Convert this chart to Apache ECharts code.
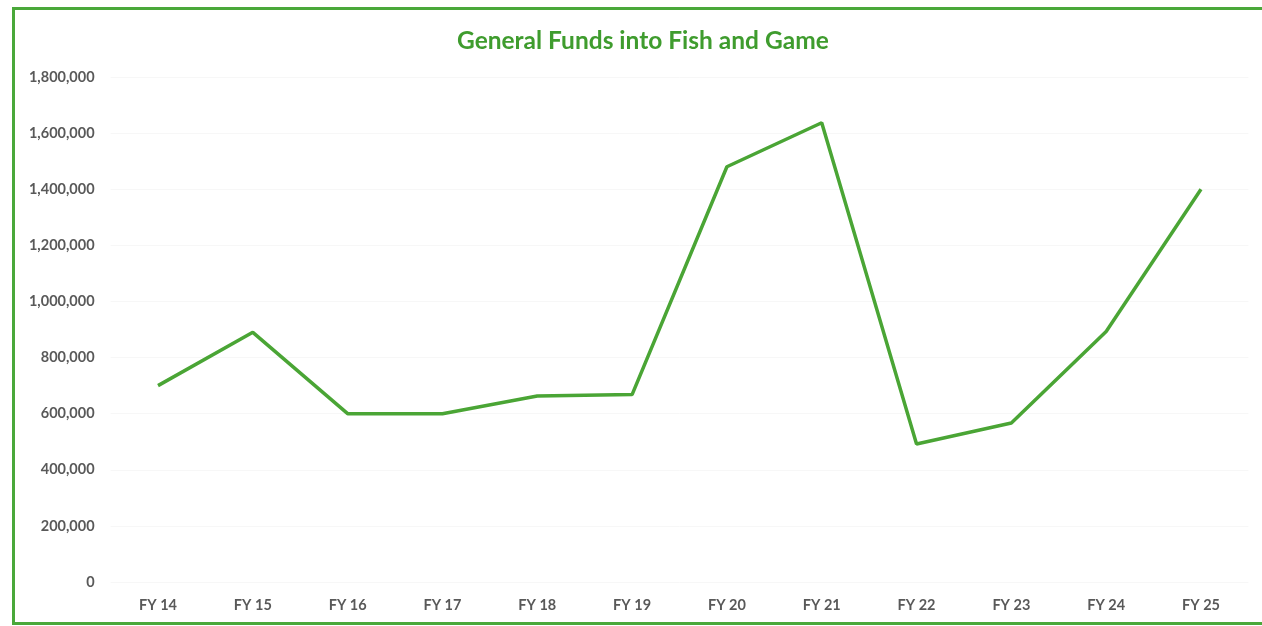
<!DOCTYPE html>
<html>
<head>
<meta charset="utf-8">
<script src="https://cdn.jsdelivr.net/npm/echarts@6/dist/echarts.min.js"></script>
<style>
html,body{margin:0;padding:0;background:#fff;overflow:hidden;}
#wrap{position:relative;width:1262px;height:626px;overflow:hidden;}
#chart{position:absolute;left:0;top:0;width:1262px;height:626px;}
#frame{position:absolute;left:12px;top:7px;width:1300px;height:612px;border-left:3px solid #4aa83a;border-top:3px solid #4aa83a;border-bottom:3px solid #4aa83a;pointer-events:none;box-sizing:content-box;}
</style>
</head>
<body>
<div id="wrap">
<div id="chart"></div>
<div id="frame"></div>
</div>
<script>
const categories = ['FY 14','FY 15','FY 16','FY 17','FY 18','FY 19','FY 20','FY 21','FY 22','FY 23','FY 24','FY 25'];
const funds = [700000, 890000, 600000, 600000, 663000, 668000, 1480000, 1637000, 492000, 567000, 893000, 1400000];
const yTicks = {min: 0, max: 1800000, interval: 200000};

const chart = echarts.init(document.getElementById('chart'));
chart.setOption({
  backgroundColor: '#ffffff',
  animation: false,
  title: {
    text: 'General Funds into Fish and Game',
    left: 452,
    top: 24,
    textStyle: {fontFamily: 'Lato', fontWeight: 'bold', fontSize: 24.5, color: '#3f9c2e'}
  },
  grid: {left: 110.6, right: 13.6, top: 77, bottom: 44},
  xAxis: {
    type: 'category',
    data: categories,
    boundaryGap: true,
    axisLine: {show: false},
    axisTick: {show: false},
    axisLabel: {margin: 16, fontFamily: 'Lato', fontWeight: 'bold', fontSize: 14.5, color: '#595959'}
  },
  yAxis: {
    type: 'value',
    min: yTicks.min,
    max: yTicks.max,
    interval: yTicks.interval,
    axisLine: {show: false},
    axisTick: {show: false},
    splitLine: {lineStyle: {color: '#f7f7f7', width: 1}},
    axisLabel: {
      margin: 16, fontFamily: 'Lato', fontWeight: 'bold', fontSize: 14.5, color: '#595959',
      formatter: v => v.toLocaleString('en-US')
    }
  },
  series: [{
    type: 'line',
    data: funds,
    symbol: 'none',
    lineStyle: {color: '#4aa535', width: 3.5},
    itemStyle: {color: '#4aa535'}
  }]
});
</script>
</body>
</html>
